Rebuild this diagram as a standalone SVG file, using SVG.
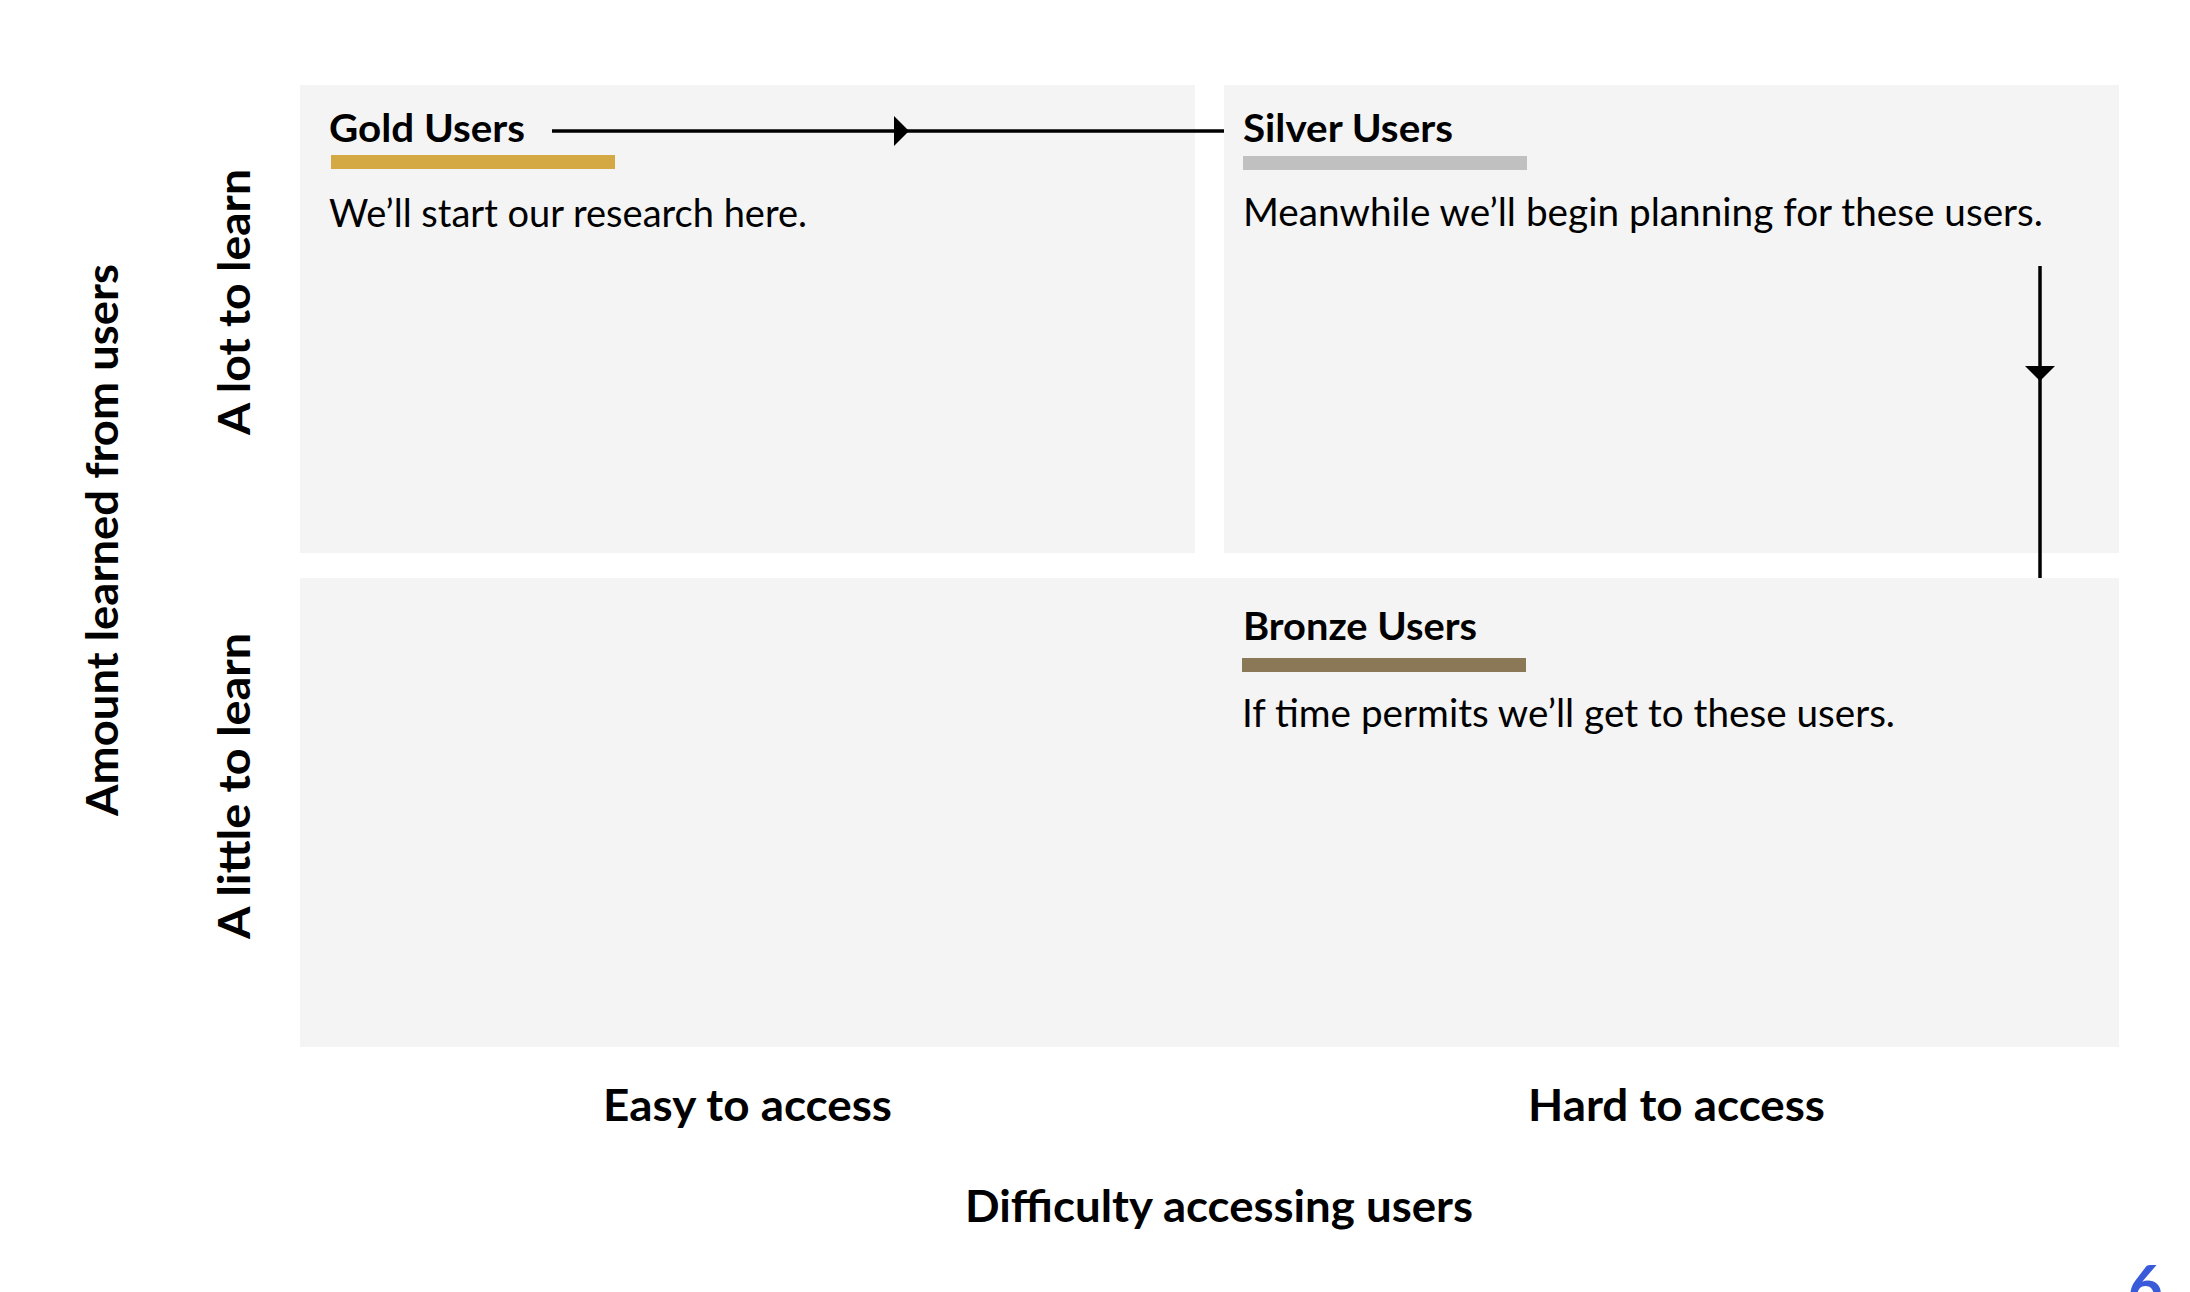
<svg xmlns="http://www.w3.org/2000/svg" width="2190" height="1292" viewBox="0 0 2190 1292">
  <style>
    .quad { fill: #f4f4f4; }
    .title { font-family: Lato, "Liberation Sans", sans-serif; font-weight: 700; font-size: 39px; fill: #000; }
    .body { font-family: Lato, "Liberation Sans", sans-serif; font-weight: 400; font-size: 38px; fill: #000; }
    .axis { font-family: Lato, "Liberation Sans", sans-serif; font-weight: 700; font-size: 43px; fill: #000; }
    .conn { fill: none; stroke: #000; stroke-width: 3.5; }
  </style>
  <defs>
    <marker id="arrow" markerUnits="userSpaceOnUse" viewBox="0 0 15 30" markerWidth="15" markerHeight="30" refX="15" refY="15" orient="auto">
      <path d="M0,0 L15,15 L0,30 Z" fill="#000"/>
    </marker>
  </defs>
  <rect width="2190" height="1292" fill="#fff"/>

  <g id="gold">
    <rect class="quad" x="300" y="85" width="895" height="468"/>
    <text class="title" x="329" y="142" textLength="196" lengthAdjust="spacingAndGlyphs">Gold Users</text>
    <rect x="331" y="155" width="284" height="14" fill="#d4a843"/>
    <text class="body" x="329" y="227" textLength="478" lengthAdjust="spacingAndGlyphs">We’ll start our research here.</text>
  </g>

  <g id="silver">
    <rect class="quad" x="1224" y="85" width="895" height="468"/>
    <text class="title" x="1243" y="142" textLength="210" lengthAdjust="spacingAndGlyphs">Silver Users</text>
    <rect x="1243" y="156" width="284" height="14" fill="#c0c0c0"/>
    <text class="body" x="1243" y="226" textLength="800" lengthAdjust="spacingAndGlyphs">Meanwhile we’ll begin planning for these users.</text>
  </g>

  <g id="bronze">
    <rect class="quad" x="300" y="578" width="1819" height="469"/>
    <text class="title" x="1243" y="640" textLength="234" lengthAdjust="spacingAndGlyphs">Bronze Users</text>
    <rect x="1242" y="658" width="284" height="14" fill="#8a7857"/>
    <text class="body" x="1242" y="727" textLength="653" lengthAdjust="spacingAndGlyphs">If time permits we’ll get to these users.</text>
  </g>

  <g id="connectors">
    <path class="conn" d="M552,131 L909,131 L1224,131" marker-mid="url(#arrow)"/>
    <path class="conn" d="M2040,266 L2040,381 L2040,578" marker-mid="url(#arrow)"/>
  </g>

  <g id="axes">
    <text class="axis" transform="translate(118,540) rotate(-90)" text-anchor="middle" textLength="552" lengthAdjust="spacingAndGlyphs">Amount learned from users</text>
    <text class="axis" transform="translate(250,302) rotate(-90)" text-anchor="middle" textLength="266" lengthAdjust="spacingAndGlyphs">A lot to learn</text>
    <text class="axis" transform="translate(250,786) rotate(-90)" text-anchor="middle" textLength="306" lengthAdjust="spacingAndGlyphs">A little to learn</text>
    <text class="axis" x="603" y="1121" textLength="289" lengthAdjust="spacingAndGlyphs">Easy to access</text>
    <text class="axis" x="1528" y="1121" textLength="297" lengthAdjust="spacingAndGlyphs">Hard to access</text>
    <text class="axis" x="965" y="1222" textLength="508" lengthAdjust="spacingAndGlyphs">Difficulty accessing users</text>
  </g>

  <g id="page-number">
    <text x="2128" y="1308" font-family="Lato, 'Liberation Sans', sans-serif" font-weight="700" font-size="60" fill="#3a5bd9">6</text>
  </g>
</svg>
